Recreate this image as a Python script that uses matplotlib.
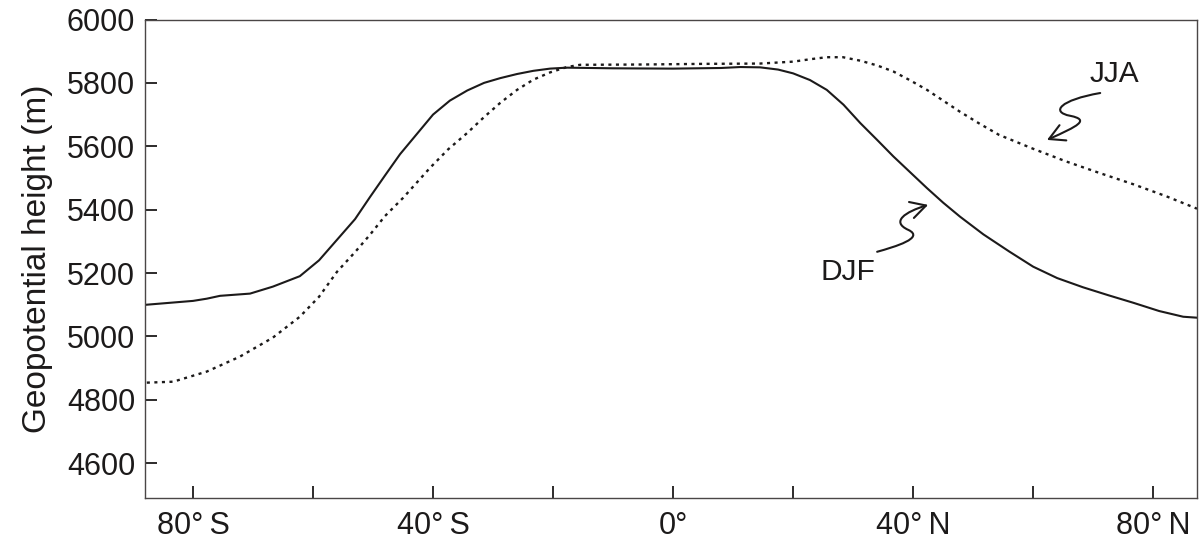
import numpy as np
import matplotlib.pyplot as plt
from matplotlib.path import Path
from matplotlib.patches import FancyArrowPatch

plt.rcParams['font.family'] = ['Liberation Sans', 'DejaVu Sans']

# zonal-mean 500 hPa geopotential height (m) vs latitude (deg, S negative)
djf_lat = [-87.7, -80, -77.7, -75.5, -70.5, -66.7, -62.2, -59, -56, -53, -50.5,
           -48, -45.5, -43.3, -40, -37.2, -34.3, -31.5, -28.8, -26, -23.3, -20.5,
           -17.7, -10, 0, 8, 11.2, 14.5, 17.5, 20, 22.8, 25.6, 28.4, 31.2,
           34, 36.7, 39.5, 42.3, 45, 47.8, 51.7, 56, 60, 64, 68.3, 72.5, 76.7,
           81, 85, 87.3]
djf_hgt = [5100, 5112, 5119, 5128, 5135, 5157, 5190, 5240, 5305, 5370, 5440,
           5508, 5575, 5625, 5700, 5744, 5776, 5800, 5815, 5828, 5838, 5845,
           5848, 5846, 5845, 5847, 5850, 5849, 5842, 5830, 5809, 5778, 5731, 5673,
           5620, 5568, 5518, 5468, 5422, 5378, 5322, 5268, 5220, 5184, 5155, 5130,
           5106, 5080, 5062, 5059]

jja_lat = [-87.7, -83.3, -77.7, -72.2, -66.7, -62.2, -59, -56, -53, -50.5, -48,
           -45, -40.5, -37.5, -34.3, -31.5, -28.8, -26, -23.3, -20.5, -17.7,
           -15.5, -5, 5, 14.5, 20, 23, 25.6, 28.3, 31.2, 34, 36.7, 39.5, 42.3,
           45, 47.8, 51, 54.3, 60, 65.5, 71, 76.7, 82.2, 87.3]
jja_hgt = [4854, 4857, 4889, 4936, 4996, 5062, 5125, 5204, 5266, 5321, 5380,
           5437, 5532, 5590, 5642, 5692, 5737, 5778, 5810, 5833, 5850,
           5857, 5858, 5860, 5861, 5867, 5875, 5881, 5881, 5870, 5855, 5836, 5808,
           5778, 5744, 5709, 5672, 5636, 5592, 5552, 5516, 5480, 5442, 5403]

xticks = [-80, -60, -40, -20, 0, 20, 40, 60, 80]
xlabels = ['80°\u2009S', '', '40°\u2009S', '', '0°', '', '40°\u2009N', '', '80°\u2009N']
yticks = [4600, 4800, 5000, 5200, 5400, 5600, 5800, 6000]

ink = '#1c1a1a'

fig = plt.figure(figsize=(11.99, 5.48), dpi=100)
ax = fig.add_axes([145 / 1199, 50 / 548, 1052 / 1199, 478.5 / 548])

ax.plot(djf_lat, djf_hgt, color=ink, lw=1.5, solid_joinstyle='round')
ax.plot(jja_lat, jja_hgt, color=ink, lw=1.7, linestyle=(0, (1.3, 1.9)))

ax.set_xlim(-88, 87.3)
ax.set_ylim(4490, 6000)
ax.set_xticks(xticks)
ax.set_xticklabels(xlabels)
ax.set_yticks(yticks)
ax.tick_params(direction='in', length=8.5, width=1.3, color=ink,
               labelsize=22, labelcolor=ink)
ax.tick_params(axis='x', pad=9)
ax.tick_params(axis='y', pad=7)
for s in ax.spines.values():
    s.set_color('#4a4646')
    s.set_linewidth(1.0)

ax.set_ylabel('Geopotential height (m)', fontsize=24, color=ink, labelpad=10)

# squiggly pointers to the two curves
def squiggle(verts, **kw):
    codes = [Path.MOVETO] + [Path.CURVE4] * (len(verts) - 1)
    arr = FancyArrowPatch(path=Path(verts, codes), arrowstyle='->,head_length=0.55,head_width=0.3',
                          mutation_scale=20, lw=1.5, color=ink, **kw)
    ax.add_patch(arr)

squiggle([(71.17, 5768), (64.5, 5746), (62.8, 5708), (66.2, 5696),
          (69.5, 5683), (67.5, 5664), (62.3, 5620)])
squiggle([(34.0, 5267), (37.0, 5283), (42.0, 5311), (39.2, 5336),
          (36.2, 5362), (38.7, 5393), (42.5, 5415)])

ax.text(73.5, 5828, 'JJA', fontsize=21.5, color=ink, ha='center', va='center')
ax.text(29.2, 5204, 'DJF', fontsize=21.5, color=ink, ha='center', va='center')

fig.savefig('out.png', dpi=100)
